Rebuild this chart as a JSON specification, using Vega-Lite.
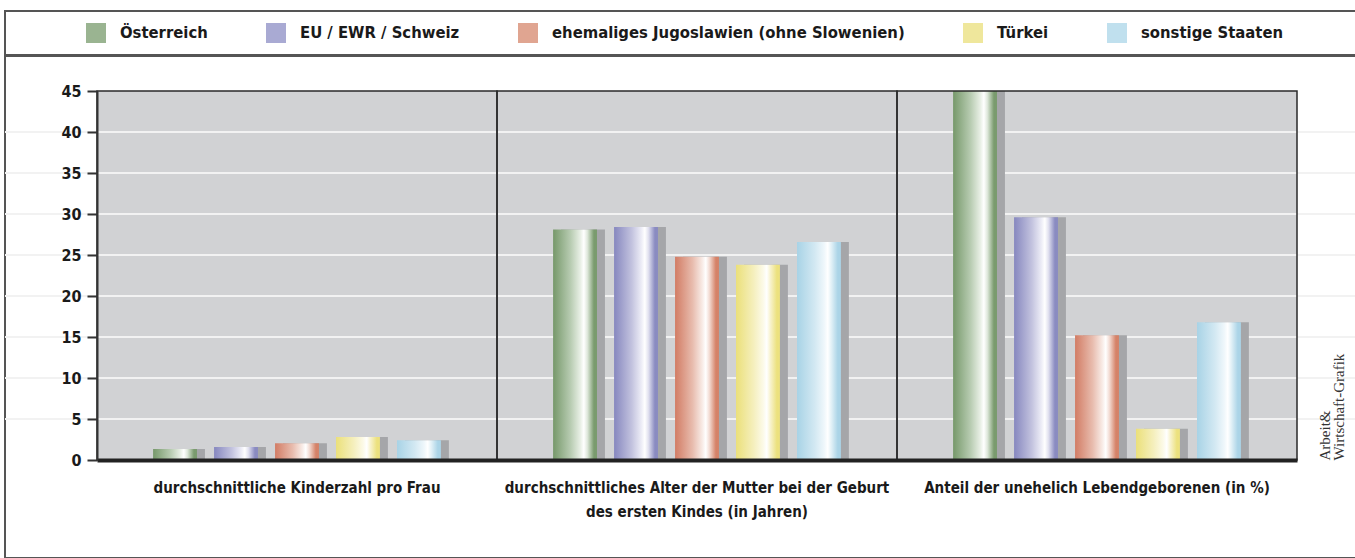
{
  "$schema": "https://vega.github.io/schema/vega-lite/v6.json",
  "background": "white",
  "padding": {"left": 3, "top": 10, "right": 0, "bottom": 0},
  "spacing": -2,
  "config": {
    "font": "DejaVu Sans Condensed, DejaVu Sans, sans-serif"
  },
  "vconcat": [
    {
      "width": 1351,
      "height": 44,
      "view": {"stroke": "#555555", "strokeWidth": 2, "fill": null},
      "data": {"values": []},
      "mark": "rect",
      "encoding": {}
    },
    {
      "width": 1351,
      "height": 502,
      "view": {"stroke": "#555555", "strokeWidth": 2, "fill": null},
      "data": {
        "values": [
          {"group": "durchschnittliche Kinderzahl pro Frau", "country": "Österreich", "value": 1.35},
          {"group": "durchschnittliche Kinderzahl pro Frau", "country": "EU / EWR / Schweiz", "value": 1.6},
          {"group": "durchschnittliche Kinderzahl pro Frau", "country": "ehemaliges Jugoslawien (ohne Slowenien)", "value": 2.05},
          {"group": "durchschnittliche Kinderzahl pro Frau", "country": "Türkei", "value": 2.8},
          {"group": "durchschnittliche Kinderzahl pro Frau", "country": "sonstige Staaten", "value": 2.4},
          {"group": "durchschnittliches Alter der Mutter bei der Geburt des ersten Kindes (in Jahren)", "country": "Österreich", "value": 28.1},
          {"group": "durchschnittliches Alter der Mutter bei der Geburt des ersten Kindes (in Jahren)", "country": "EU / EWR / Schweiz", "value": 28.4},
          {"group": "durchschnittliches Alter der Mutter bei der Geburt des ersten Kindes (in Jahren)", "country": "ehemaliges Jugoslawien (ohne Slowenien)", "value": 24.8},
          {"group": "durchschnittliches Alter der Mutter bei der Geburt des ersten Kindes (in Jahren)", "country": "Türkei", "value": 23.8},
          {"group": "durchschnittliches Alter der Mutter bei der Geburt des ersten Kindes (in Jahren)", "country": "sonstige Staaten", "value": 26.6},
          {"group": "Anteil der unehelich Lebendgeborenen (in %)", "country": "Österreich", "value": 45},
          {"group": "Anteil der unehelich Lebendgeborenen (in %)", "country": "EU / EWR / Schweiz", "value": 29.6},
          {"group": "Anteil der unehelich Lebendgeborenen (in %)", "country": "ehemaliges Jugoslawien (ohne Slowenien)", "value": 15.2},
          {"group": "Anteil der unehelich Lebendgeborenen (in %)", "country": "Türkei", "value": 3.8},
          {"group": "Anteil der unehelich Lebendgeborenen (in %)", "country": "sonstige Staaten", "value": 16.8}
        ]
      },
      "layer": [
        {
          "data": {"values": [{"group": "durchschnittliche Kinderzahl pro Frau"}, {"group": "durchschnittliches Alter der Mutter bei der Geburt des ersten Kindes (in Jahren)"}, {"group": "Anteil der unehelich Lebendgeborenen (in %)"}]},
          "mark": {"type": "rect", "color": "#d1d2d4"},
          "encoding": {
            "x": {
              "field": "group", "type": "nominal",
              "scale": {
                "domain": ["durchschnittliche Kinderzahl pro Frau", "durchschnittliches Alter der Mutter bei der Geburt des ersten Kindes (in Jahren)", "Anteil der unehelich Lebendgeborenen (in %)"],
                "range": [92, 1292], "paddingInner": 0, "paddingOuter": 0
              },
              "axis": {
                "title": null, "labelAngle": 0, "ticks": false, "tickSize": 0, "offset": -98, "zindex": 1,
                "labelPadding": 20, "labelFontSize": 15, "labelFontWeight": "bold",
                "labelColor": "#1a1a1a", "labelLimit": 0, "labelLineHeight": 24,
                "domainColor": "#222222", "domainWidth": 4,
                "labelExpr": "datum.label === 'durchschnittliches Alter der Mutter bei der Geburt des ersten Kindes (in Jahren)' ? ['durchschnittliches Alter der Mutter bei der Geburt', 'des ersten Kindes (in Jahren)'] : datum.label"
              }
            },
            "y": {"datum": 0, "type": "quantitative", "scale": {"domain": [0, 45], "range": [404, 35], "nice": false, "clamp": true}, "axis": null},
            "y2": {"datum": 45}
          }
        },
        {
          "data": {"values": [{"tick": 5}, {"tick": 10}, {"tick": 15}, {"tick": 20}, {"tick": 25}, {"tick": 30}, {"tick": 35}, {"tick": 40}]},
          "mark": {"type": "rule", "color": "#f2f2f2", "strokeWidth": 2},
          "encoding": {
            "y": {"field": "tick", "type": "quantitative", "axis": null}
          }
        },
        {
          "mark": {"type": "bar", "color": "#a5a6a9"},
          "encoding": {
            "x": {"field": "group", "type": "nominal"},
            "xOffset": {
              "field": "country", "type": "nominal",
              "scale": {"domain": ["Österreich", "EU / EWR / Schweiz", "ehemaliges Jugoslawien (ohne Slowenien)", "Türkei", "sonstige Staaten"], "paddingInner": 0.28, "paddingOuter": 0.92, "align": 0.571}
            },
            "y": {
              "field": "value", "type": "quantitative",
              "axis": {
                "title": null, "values": [0, 5, 10, 15, 20, 25, 30, 35, 40, 45],
                "grid": false, "offset": -92, "zindex": 1,
                "tickSize": 10, "tickWidth": 2, "tickColor": "#333333",
                "domainColor": "#333333", "domainWidth": 2,
                "labelPadding": 6, "labelFontSize": 16, "labelFontWeight": "bold", "labelColor": "#1a1a1a"
              }
            }
          }
        },
        {
          "mark": {"type": "bar"},
          "encoding": {
            "x": {"field": "group", "type": "nominal"},
            "xOffset": {
              "field": "country", "type": "nominal",
              "scale": {"domain": ["Österreich", "EU / EWR / Schweiz", "ehemaliges Jugoslawien (ohne Slowenien)", "Türkei", "sonstige Staaten"], "paddingInner": 0.28, "paddingOuter": 0.92, "align": 0.5}
            },
            "y": {
              "field": "value", "type": "quantitative",
              "axis": {
                "orient": "right", "offset": -59, "zindex": 1, "title": ["Arbeit&", "Wirtschaft-Grafik"],
                "labels": false, "ticks": false, "domain": false, "grid": false,
                "titleAngle": 270, "titleAnchor": "start", "titleAlign": "left", "titleBaseline": "top",
                "titleFont": "Liberation Serif, DejaVu Serif, serif", "titleFontWeight": "normal",
                "titleFontSize": 15, "titleColor": "#333333", "titlePadding": 6, "titleLineHeight": 14
              }
            },
            "color": {
              "condition": [
                {"test": "datum.country === 'Österreich'", "value": {"gradient": "linear", "x1": 0, "x2": 1, "y1": 0, "y2": 0, "stops": [{"offset": 0, "color": "#76986a"}, {"offset": 0.4, "color": "#b8ccb2"}, {"offset": 0.62, "color": "#e8efe5"}, {"offset": 0.7, "color": "#ffffff"}, {"offset": 0.78, "color": "#dfe8dc"}, {"offset": 0.93, "color": "#7a9b6e"}, {"offset": 1, "color": "#7a9b6e"}]}},
                {"test": "datum.country === 'EU / EWR / Schweiz'", "value": {"gradient": "linear", "x1": 0, "x2": 1, "y1": 0, "y2": 0, "stops": [{"offset": 0, "color": "#8687bf"}, {"offset": 0.4, "color": "#c2c2de"}, {"offset": 0.62, "color": "#ececf6"}, {"offset": 0.7, "color": "#ffffff"}, {"offset": 0.78, "color": "#e2e2f0"}, {"offset": 0.93, "color": "#8a8bc1"}, {"offset": 1, "color": "#8a8bc1"}]}},
                {"test": "datum.country === 'ehemaliges Jugoslawien (ohne Slowenien)'", "value": {"gradient": "linear", "x1": 0, "x2": 1, "y1": 0, "y2": 0, "stops": [{"offset": 0, "color": "#d27c64"}, {"offset": 0.4, "color": "#e8bcae"}, {"offset": 0.62, "color": "#f8ebe6"}, {"offset": 0.7, "color": "#ffffff"}, {"offset": 0.78, "color": "#f3ddd5"}, {"offset": 0.93, "color": "#d58268"}, {"offset": 1, "color": "#d58268"}]}},
                {"test": "datum.country === 'Türkei'", "value": {"gradient": "linear", "x1": 0, "x2": 1, "y1": 0, "y2": 0, "stops": [{"offset": 0, "color": "#ebe07a"}, {"offset": 0.4, "color": "#f5efbd"}, {"offset": 0.62, "color": "#fcfae8"}, {"offset": 0.7, "color": "#ffffff"}, {"offset": 0.78, "color": "#f8f3cf"}, {"offset": 0.93, "color": "#ece17e"}, {"offset": 1, "color": "#ece17e"}]}}
              ],
              "value": {"gradient": "linear", "x1": 0, "x2": 1, "y1": 0, "y2": 0, "stops": [{"offset": 0, "color": "#a8d3e6"}, {"offset": 0.4, "color": "#d2e8f2"}, {"offset": 0.62, "color": "#eff7fb"}, {"offset": 0.7, "color": "#ffffff"}, {"offset": 0.78, "color": "#e3f1f7"}, {"offset": 0.93, "color": "#abd4e7"}, {"offset": 1, "color": "#abd4e7"}]}
            }
          }
        },
        {
          "mark": {"type": "bar", "opacity": 0},
          "encoding": {
            "x": {"field": "group", "type": "nominal"},
            "xOffset": {
              "field": "country", "type": "nominal",
              "scale": {"domain": ["Österreich", "EU / EWR / Schweiz", "ehemaliges Jugoslawien (ohne Slowenien)", "Türkei", "sonstige Staaten"], "paddingInner": 0.28, "paddingOuter": 0.92, "align": 0.5}
            },
            "y": {"field": "value", "type": "quantitative", "axis": null},
            "fill": {
              "field": "country", "type": "nominal",
              "scale": {
                "domain": ["Österreich", "EU / EWR / Schweiz", "ehemaliges Jugoslawien (ohne Slowenien)", "Türkei", "sonstige Staaten"],
                "range": ["#9ab491", "#a9aad3", "#e0a591", "#efe79c", "#c0e0ee"]
              },
              "legend": {
                "orient": "none", "legendX": 81, "legendY": 12, "direction": "horizontal", "columns": 5,
                "title": null, "symbolType": "square", "symbolSize": 400, "symbolStrokeWidth": 0, "symbolOpacity": 1,
                "labelFontSize": 16.5, "labelFontWeight": "bold", "labelColor": "#1a1a1a",
                "labelOffset": 14, "columnPadding": 58, "labelLimit": 0, "padding": 0
              }
            }
          }
        },
        {
          "data": {"values": [{"group": "durchschnittliche Kinderzahl pro Frau"}, {"group": "durchschnittliches Alter der Mutter bei der Geburt des ersten Kindes (in Jahren)"}, {"group": "Anteil der unehelich Lebendgeborenen (in %)"}]},
          "mark": {"type": "rect", "fill": null, "stroke": "#2a2a2a", "strokeWidth": 1.5},
          "encoding": {
            "x": {"field": "group", "type": "nominal"},
            "y": {"datum": 0, "type": "quantitative", "axis": null},
            "y2": {"datum": 45}
          }
        }
      ],
      "resolve": {"axis": {"y": "independent"}, "scale": {"xOffset": "independent"}}
    }
  ]
}
